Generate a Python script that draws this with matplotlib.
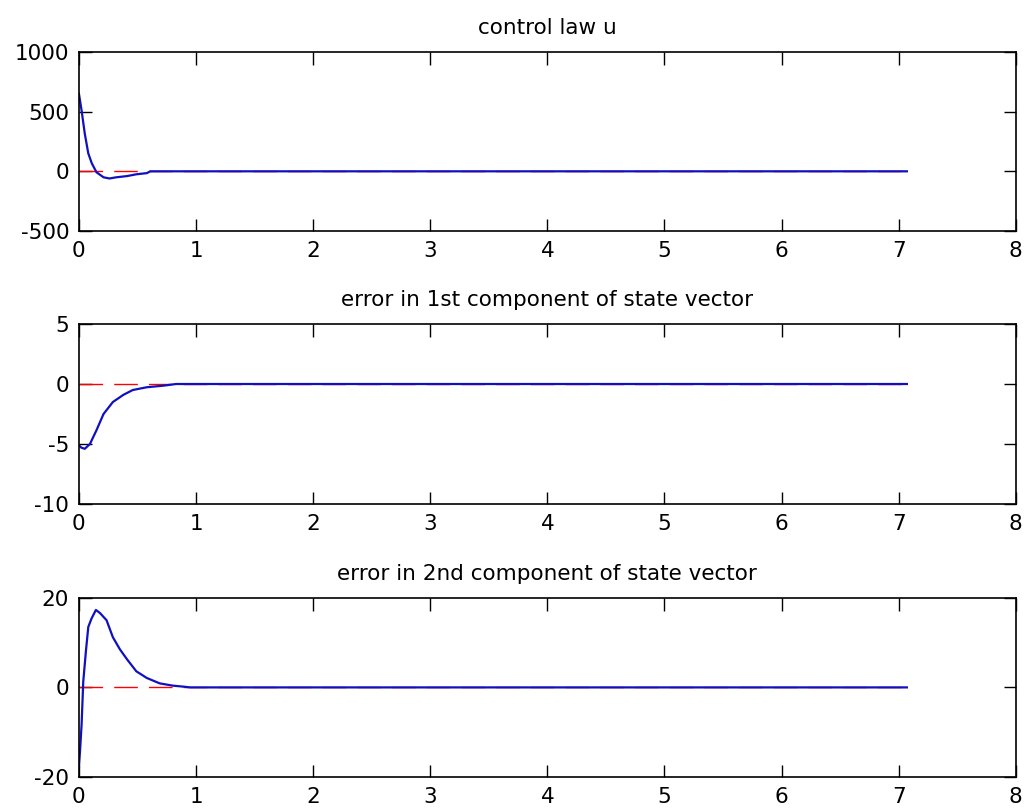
import matplotlib
matplotlib.use("Agg")
import matplotlib.pyplot as plt

# time axis of the simulation
t_end = 7.07

# control law u
t_u = [0.0, 0.005, 0.023, 0.05, 0.08, 0.11, 0.15, 0.21, 0.26, 0.32, 0.41, 0.49, 0.58, 0.61, t_end]
u = [650, 620, 508, 316, 150, 67, -8, -50, -60, -50, -40, -25, -15, 0, 0]

# error in 1st component of state vector
t_e1 = [0.0, 0.02, 0.05, 0.094, 0.15, 0.21, 0.29, 0.38, 0.46, 0.58, 0.72, 0.83, t_end]
e1 = [-5.1, -5.3, -5.4, -5.0, -3.85, -2.5, -1.5, -0.9, -0.5, -0.27, -0.14, 0.0, 0.0]

# error in 2nd component of state vector
t_e2 = [0.0, 0.01, 0.023, 0.037, 0.06, 0.08, 0.108, 0.145, 0.18, 0.236, 0.29, 0.35,
        0.41, 0.49, 0.58, 0.69, 0.8, 0.9, 0.95, t_end]
e2 = [-17.8, -14.0, -8.2, 1.3, 8.2, 13.5, 15.4, 17.3, 16.6, 15.0, 11.2, 8.5,
      6.3, 3.6, 2.1, 0.9, 0.4, 0.15, 0.0, 0.0]

# reference (desired) signals, all zero
t_ref = [0.0, t_end]
ref = [0.0, 0.0]

titles = ["control law u",
          "error in 1st component of state vector",
          "error in 2nd component of state vector"]
ylims = [(-500, 1000), (-10, 5), (-20, 20)]
yticks = [[-500, 0, 500, 1000], [-10, -5, 0, 5], [-20, 0, 20]]
xticks = [0, 1, 2, 3, 4, 5, 6, 7, 8]

# axes rectangles in figure fractions [left, bottom, width, height]
rects = [[0.077, 0.7145, 0.914, 0.2212],
         [0.077, 0.377, 0.914, 0.2225],
         [0.077, 0.0396, 0.914, 0.2214]]


def draw_panel(ax, t, y, title, ylim, yt):
    ax.plot(t_ref, ref, color="red", linestyle=(0, (17, 8)), linewidth=1.0)
    ax.plot(t, y, color="#1010c0", linewidth=1.6)
    ax.set_xlim(0, 8)
    ax.set_ylim(*ylim)
    ax.set_xticks(xticks)
    ax.set_yticks(yt)
    ax.set_title(title, fontsize=15.5, pad=13)
    ax.tick_params(direction="in", length=9, width=1, top=True, right=True,
                   labelsize=15.5, pad=7)
    for s in ax.spines.values():
        s.set_linewidth(1.2)


def main():
    plt.rcParams["font.family"] = ["DejaVu Sans"]
    plt.rcParams["axes.unicode_minus"] = False
    fig = plt.figure(figsize=(10.25, 8.09), dpi=100)
    data = [(t_u, u), (t_e1, e1), (t_e2, e2)]
    for i in range(3):
        ax = fig.add_axes(rects[i])
        draw_panel(ax, data[i][0], data[i][1], titles[i], ylims[i], yticks[i])
    fig.savefig("out.png", dpi=100)


if __name__ == "__main__":
    main()
